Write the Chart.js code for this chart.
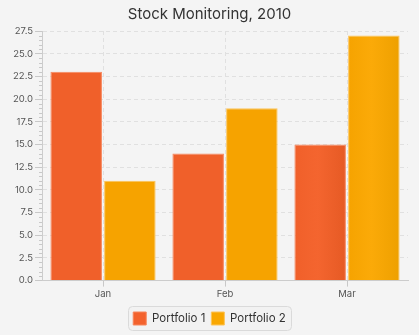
<!DOCTYPE html>
<html>
<head>
<meta charset="utf-8">
<script src="https://cdn.jsdelivr.net/npm/chart.js@4"></script>
<style>
  html, body { margin: 0; padding: 0; background: #f4f4f4; }
  #wrap { width: 419px; height: 335px; }
</style>
</head>
<body>
<div id="wrap"><canvas id="myChart" width="419" height="335"></canvas></div>
<script>
var months = ["Jan", "Feb", "Mar"];
var portfolio1 = [23, 14, 15];
var portfolio2 = [11, 19, 27];
var yMax = 27.5;
var yStep = 2.5;
var yMinorStep = 0.5;

// left-to-right shading for each bar: [edge, middle, right edge]
var shades = [
  ['#f0602a', '#f4652f', '#e65a24'],
  ['#f6a300', '#fbaa08', '#eea000']
];

// short minor ticks on the value axis, the rounded legend frame, bar shading
var extras = {
  id: 'extras',
  beforeDraw: function (chart) {
    var hb = chart.legend.legendHitBoxes;
    if (!hb || !hb.length) return;
    var x0 = Infinity, x1 = -Infinity, y0 = Infinity, y1 = -Infinity;
    hb.forEach(function (b) {
      x0 = Math.min(x0, b.left); x1 = Math.max(x1, b.left + b.width);
      y0 = Math.min(y0, b.top); y1 = Math.max(y1, b.top + b.height);
    });
    var ctx = chart.ctx;
    ctx.save();
    ctx.beginPath();
    ctx.roundRect(Math.round(x0 - 5) + 0.5, Math.round(y0 - 6) + 0.5, Math.round(x1 - x0 + 10), Math.round(y1 - y0 + 11), 4);
    ctx.fillStyle = '#f2f2f2';
    ctx.fill();
    ctx.strokeStyle = '#dadada';
    ctx.lineWidth = 1;
    ctx.stroke();
    ctx.restore();
  },
  beforeDatasetsDraw: function (chart) {
    var ctx = chart.ctx;
    chart.data.datasets.forEach(function (ds, di) {
      chart.getDatasetMeta(di).data.forEach(function (bar) {
        var g = ctx.createLinearGradient(bar.x - bar.width / 2, 0, bar.x + bar.width / 2, 0);
        g.addColorStop(0, shades[di][0]);
        g.addColorStop(0.45, shades[di][1]);
        g.addColorStop(1, shades[di][2]);
        bar.options.backgroundColor = g;
      });
    });
  },
  afterDraw: function (chart) {
    var s = chart.scales.y;
    var ctx = chart.ctx;
    ctx.save();
    ctx.strokeStyle = '#c8c8c8';
    ctx.lineWidth = 1;
    for (var v = 0; v <= yMax + 0.001; v += yMinorStep) {
      if (Math.abs(v / yStep - Math.round(v / yStep)) < 0.001) continue;
      var py = Math.round(s.getPixelForValue(v)) + 0.5;
      ctx.beginPath();
      ctx.moveTo(s.right - 3, py);
      ctx.lineTo(s.right, py);
      ctx.stroke();
    }
    ctx.restore();
  }
};

var ctx = document.getElementById('myChart').getContext('2d');
var myChart = new Chart(ctx, {
  type: 'bar',
  data: {
    labels: months,
    datasets: [{
      label: 'Portfolio 1',
      data: portfolio1,
      backgroundColor: '#f3622d',
      borderColor: '#f7865c',
      borderWidth: 1,
      categoryPercentage: 0.88,
      barPercentage: 0.96
    }, {
      label: 'Portfolio 2',
      data: portfolio2,
      backgroundColor: '#f9a700',
      borderColor: '#fcc45a',
      borderWidth: 1,
      categoryPercentage: 0.88,
      barPercentage: 0.96
    }]
  },
  options: {
    responsive: false,
    animation: false,
    layout: { padding: { left: 11, right: 11, top: 0, bottom: 0 } },
    plugins: {
      title: {
        display: true,
        text: 'Stock Monitoring, 2010',
        color: '#333333',
        font: { family: 'Inter', size: 15, weight: 'normal' },
        padding: { top: 5, bottom: 8 }
      },
      legend: {
        position: 'bottom',
        labels: {
          color: '#333333',
          font: { family: 'Inter', size: 11.5 },
          boxWidth: 13,
          boxHeight: 13,
          padding: 6
        }
      },
      tooltip: { enabled: false }
    },
    scales: {
      x: {
        afterFit: function (scale) { scale.height += 4; },
        grid: {
          offset: false,
          color: '#e0e0e0',
          tickColor: '#c8c8c8',
          tickLength: 6
        },
        border: { color: '#cccccc', dash: [4, 3] },
        ticks: {
          color: '#555555',
          font: { family: 'Inter', size: 9.5 },
          padding: 2
        }
      },
      y: {
        min: 0,
        max: yMax,
        grid: {
          color: '#e0e0e0',
          tickColor: '#c8c8c8',
          tickLength: 7
        },
        border: { color: '#cccccc', dash: [4, 3] },
        ticks: {
          stepSize: yStep,
          color: '#555555',
          font: { family: 'Inter', size: 9.5 },
          padding: 2,
          callback: function (v) { return v.toFixed(1); }
        }
      }
    }
  },
  plugins: [extras]
});
</script>
</body>
</html>
